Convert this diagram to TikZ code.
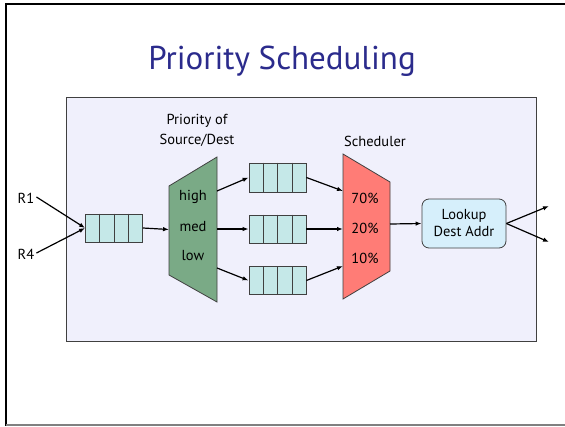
\documentclass[tikz,border=0pt]{standalone}
\usepackage{fontspec}
\setmainfont{PT Sans}
\usetikzlibrary{arrows.meta,calc}

\definecolor{titleblue}{RGB}{43,43,140}
\definecolor{panelfill}{RGB}{240,240,252}
\definecolor{edgegray}{RGB}{64,64,64}
\definecolor{queuefill}{RGB}{197,232,232}
\definecolor{classgreen}{RGB}{122,170,134}
\definecolor{schedred}{RGB}{255,124,118}
\definecolor{lookupfill}{RGB}{214,239,251}

\tikzset{
  txt/.style={font=\fontsize{14.5}{17}\selectfont, inner sep=0pt},
  queuebox/.style={draw=edgegray, fill=queuefill, line width=0.8pt,
    minimum width=57pt, minimum height=28pt, inner sep=0pt},
  flow/.style={line width=1.2pt, -{Latex[length=6pt,width=4.5pt]}},
  stage/.style={draw=edgegray, line width=0.8pt},
}

\begin{document}
\begin{tikzpicture}[x=1pt,y=-1pt]
\useasboundingbox (0,0) rectangle (565,426);

% slide frame
\draw[line width=2pt] (5,4) -- (566,4);
\draw[line width=2pt] (6,4) -- (6,426);
\draw[gray, line width=1.5pt] (6,425) -- (566,425);

% title
\node[titleblue, font=\fontsize{33}{40}\selectfont] (title) at (282,61) {Priority Scheduling};

% panel
\draw[draw=edgegray, fill=panelfill, line width=1pt] (66,97) rectangle (536,341);

% stage captions
\node[txt] (cap1) at (197,121) {Priority of};
\node[txt] (cap2) at (197,140) {Source/Dest};
\node[txt] (cap3) at (375,141) {Scheduler};

% inputs
\node[txt] (r1) at (26,198) {R1};
\node[txt] (r4) at (26,254) {R4};

% queues
\node[queuebox] (q0) at (114,228) {};
\node[queuebox, minimum height=29pt] (qa) at (277.5,177.5) {};
\node[queuebox] (qb) at (277.5,229) {};
\node[queuebox] (qc) at (277.5,280.5) {};
\foreach \q in {q0,qa,qb,qc}
  \foreach \f in {0.25,0.5,0.75}
    \draw[edgegray, line width=0.8pt]
      ($(\q.north west)!\f!(\q.north east)$) -- ($(\q.south west)!\f!(\q.south east)$);

% classifier
\draw[stage, fill=classgreen] (169,186) -- (217,157) -- (217,302) -- (169,275) -- cycle;
\node[txt] (high) at (193,197) {high};
\node[txt] (med) at (193,227) {med};
\node[txt] (low) at (193,256) {low};
\coordinate (gin) at (169,229.5);
\coordinate (g1) at (217,191);
\coordinate (g2) at (217,229);
\coordinate (g3) at (217,268);

% scheduler
\draw[stage, fill=schedred] (343,154) -- (390,182) -- (390,271) -- (343,299) -- cycle;
\node[txt] (p70) at (365,198) {70\%};
\node[txt] (p20) at (365,228) {20\%};
\node[txt] (p10) at (365,258) {10\%};
\coordinate (s1) at (343,191);
\coordinate (s2) at (343,229);
\coordinate (s3) at (343,266);
\coordinate (s0) at (390,224);

% lookup
\node[draw=edgegray, fill=lookupfill, line width=0.8pt, rounded corners=7pt,
  minimum width=84pt, minimum height=49pt, align=center,
  font=\fontsize{14.5}{17}\selectfont] (lookup) at (464,223.5) {Lookup\\Dest Addr};
\coordinate (o1) at (549,206);
\coordinate (o2) at (549,242);

% connectors
\draw[flow] (r1.east) ++(2,-1) coordinate (r1e) -- (q0.west);
\draw[flow] (r4.east) ++(2,-1) coordinate (r4e) -- (q0.west);
\draw[flow] (q0.east) -- (gin);
\draw[flow] (g1) -- (qa.west);
\draw[flow] (g2) -- (qb.west);
\draw[flow] (g3) -- (qc.west);
\draw[flow] (qa.east) -- (s1);
\draw[flow] (qb.east) -- (s2);
\draw[flow] (qc.east) -- (s3);
\draw[flow] (s0) -- (lookup.west);
\draw[flow] (lookup.east) -- (o1);
\draw[flow] (lookup.east) -- (o2);
\end{tikzpicture}
\end{document}
